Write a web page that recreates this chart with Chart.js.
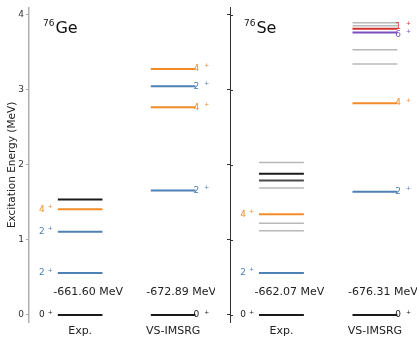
<!DOCTYPE html>
<html>
<head>
<meta charset="utf-8">
<script src="https://cdn.jsdelivr.net/npm/chart.js@4.4.1/dist/chart.umd.min.js"></script>
<style>
  html, body { margin: 0; padding: 0; background: #fff; }
  #wrap { position: relative; width: 417px; height: 338px; }
  canvas { position: absolute; top: 0; }
</style>
</head>
<body>
<div id="wrap">
  <canvas id="ge" width="215" height="338" style="left:0"></canvas>
  <canvas id="se" width="202" height="338" style="left:215px"></canvas>
</div>
<script>
const columns = ['Exp.', 'VS-IMSRG'];
const yTicks = [0, 1, 2, 3, 4];

// 76Ge levels (MeV) and spin labels (k/d/g = unlabelled lines)
const geExpE = [0, 0.56, 1.11, 1.41, 1.54];
const geExpJ = ['0', '2', '2', '4', 'k'];
const geVsE = [0, 1.66, 2.77, 3.05, 3.28];
const geVsJ = ['0', '2', '4', '2', '4'];
const geBinding = ['-661.60 MeV', '-672.89 MeV'];

// 76Se
const seExpE = [0, 0.56, 1.12, 1.22, 1.34, 1.69, 1.79, 1.88, 2.03];
const seExpJ = ['0', '2', 'g', 'g', '4', 'g', 'd', 'k', 'g'];
const seVsE = [0, 1.64, 2.82, 3.34, 3.53, 3.76, 3.81, 3.85, 3.89];
const seVsJ = ['0', '2', '4', 'g', 'g', '6', '1', 'g', 'g'];
const seBinding = ['-662.07 MeV', '-676.31 MeV'];

Chart.defaults.font.family = '"DejaVu Sans", sans-serif';

const palette = {
    '0': '#1a1a1a', '2': '#4e81b4', '4': '#f28c28', '1': '#d0312d', '6': '#7a4fc0',
    'k': '#1a1a1a', 'd': '#4a4a4a', 'g': '#b8b8b8'
};
const HALF = 0.24;
const isLabelled = j => /^[0-9]$/.test(j);

function levelSets(cols) {
    const sets = [];
    cols.forEach(([E, J], c) => {
        E.forEach((e, i) => {
            const j = J[i];
            sets.push({
                data: [{ x: c - HALF, y: e }, { x: c + HALF, y: e }],
                borderColor: palette[j],
                borderWidth: j === 'g' ? 1.5 : 2,
                pointRadius: 0,
                order: j === 'g' ? 2 : 1,
                spin: j,
                col: c,
                energy: e
            });
        });
    });
    return sets;
}

const levelLabels = {
    id: 'levelLabels',
    afterDatasetsDraw(chart, args, opts) {
        const { ctx, chartArea, scales: { x, y } } = chart;
        ctx.save();
        ctx.textBaseline = 'middle';
        ctx.textAlign = 'left';

        columns.forEach((_, c) => {
            const items = chart.data.datasets
                .filter(d => d.col === c && isLabelled(d.spin))
                .map(d => ({ d, py: y.getPixelForValue(d.energy) }))
                .sort((a, b) => a.py - b.py);
            for (let k = 1; k < items.length; k++) {
                const gap = items[k].py - items[k - 1].py;
                if (gap < 8) {
                    const push = (8 - gap) / 2;
                    items[k - 1].py -= push;
                    items[k].py += push;
                }
            }
            items.forEach(({ d, py }) => {
                ctx.font = '9px "DejaVu Sans"';
                const wd = ctx.measureText(d.spin).width;
                ctx.font = '6px "DejaVu Sans"';
                const wp = ctx.measureText('+').width;
                let x0;
                let gapPlus;
                if (c === 0) {
                    gapPlus = 3;
                    x0 = x.getPixelForValue(c - HALF) - 5 - wp - gapPlus - wd;
                } else {
                    gapPlus = 5;
                    x0 = x.getPixelForValue(c + HALF) - 2;
                }
                ctx.fillStyle = palette[d.spin];
                ctx.font = '9px "DejaVu Sans"';
                ctx.fillText(d.spin, x0, py);
                ctx.font = '6px "DejaVu Sans"';
                ctx.fillText('+', x0 + wd + gapPlus, py - 3);
            });

            // binding energies
            ctx.fillStyle = '#222';
            ctx.font = '11px "DejaVu Sans"';
            ctx.textAlign = 'center';
            ctx.fillText(opts.binding[c], x.getPixelForValue(c + 0.085), y.getPixelForValue(0.31));
            ctx.textAlign = 'left';
        });

        // nucleus name
        const nx = chartArea.left + 14;
        ctx.fillStyle = '#111';
        ctx.textBaseline = 'alphabetic';
        ctx.font = '9px "DejaVu Sans"';
        ctx.fillText(opts.mass, nx, 26);
        const wm = ctx.measureText(opts.mass).width;
        ctx.font = '16px "DejaVu Sans"';
        ctx.fillText(opts.element, nx + wm + 1, 33);

        // inner tick stubs
        if (opts.innerTicks) {
            ctx.strokeStyle = '#333';
            ctx.lineWidth = 1;
            yTicks.forEach(v => {
                const py = Math.round(y.getPixelForValue(v)) + 0.5;
                ctx.beginPath();
                ctx.moveTo(chartArea.left, py);
                ctx.lineTo(chartArea.left + 3, py);
                ctx.stroke();
            });
        }
        ctx.restore();
    }
};

function makeChart(id, cols, binding, mass, element, withLabels) {
    return new Chart(document.getElementById(id), {
        type: 'line',
        data: { datasets: levelSets(cols) },
        plugins: [levelLabels],
        options: {
            responsive: false,
            animation: false,
            layout: { padding: { top: 7, left: 0, right: 0, bottom: 0 } },
            plugins: {
                legend: { display: false },
                tooltip: { enabled: false },
                levelLabels: { binding, mass, element, innerTicks: !withLabels }
            },
            scales: {
                x: {
                    type: 'linear',
                    min: -0.55,
                    max: 1.45,
                    afterBuildTicks: s => { s.ticks = columns.map((_, i) => ({ value: i })); },
                    ticks: {
                        callback: v => columns[v],
                        font: { size: 11 },
                        color: '#222',
                        padding: 2,
                        maxRotation: 0
                    },
                    grid: { display: false, drawTicks: false },
                    border: { display: false },
                    afterFit: s => { s.height = 15.5; }
                },
                y: {
                    type: 'linear',
                    min: -0.1,
                    max: 4.1,
                    afterBuildTicks: s => { s.ticks = yTicks.map(v => ({ value: v })); },
                    ticks: {
                        display: withLabels,
                        font: { size: 9 },
                        color: '#333',
                        padding: 2
                    },
                    grid: {
                        drawOnChartArea: false,
                        drawTicks: true,
                        tickLength: 3,
                        color: withLabels ? '#aaa' : '#333'
                    },
                    border: { color: withLabels ? '#b0b0b0' : '#333', width: withLabels ? 1.5 : 1 },
                    title: {
                        display: withLabels,
                        text: 'Excitation Energy (MeV)',
                        font: { size: 10.5 },
                        color: '#222',
                        padding: { top: 6, bottom: 0 }
                    },
                    afterFit: s => { s.width = withLabels ? 29 : 15; }
                }
            }
        }
    });
}

makeChart('ge', [[geExpE, geExpJ], [geVsE, geVsJ]], geBinding, '76', 'Ge', true);
makeChart('se', [[seExpE, seExpJ], [seVsE, seVsJ]], seBinding, '76', 'Se', false);
</script>
</body>
</html>
